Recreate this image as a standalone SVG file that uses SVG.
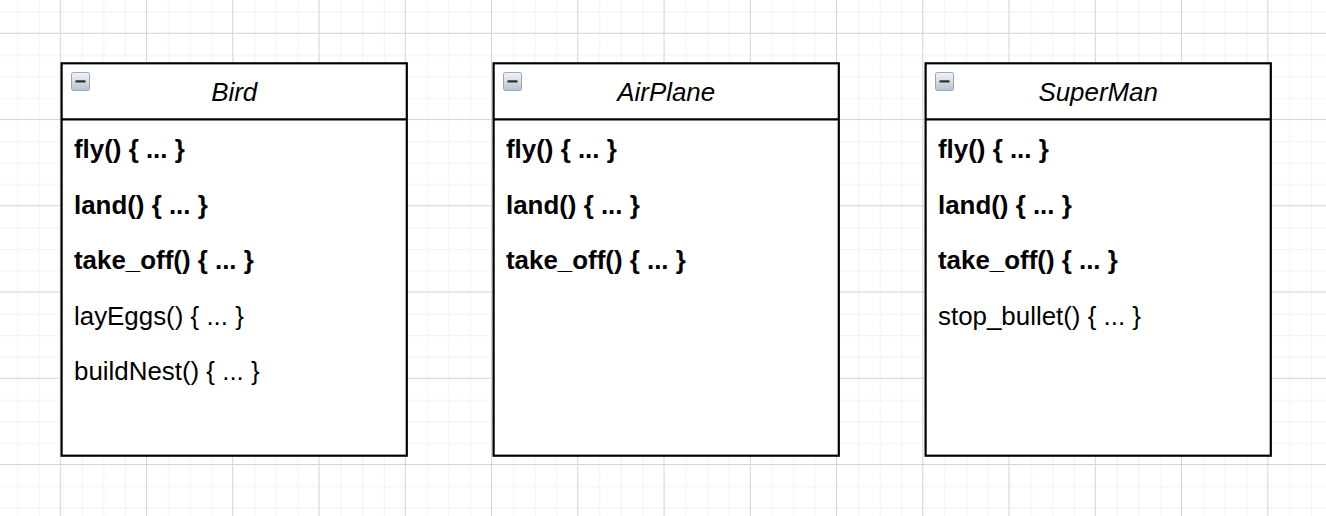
<svg xmlns="http://www.w3.org/2000/svg" width="1326" height="516" viewBox="0 0 1326 516">
<defs>
<pattern id="grid" patternUnits="userSpaceOnUse" x="59.8" y="32.8" width="86.25" height="86.25">
<rect x="22.06" y="0" width="1" height="86.25" fill="#f2f2f2"/>
<rect x="43.63" y="0" width="1" height="86.25" fill="#f2f2f2"/>
<rect x="65.19" y="0" width="1" height="86.25" fill="#f2f2f2"/>
<rect x="0" y="22.06" width="86.25" height="1" fill="#f2f2f2"/>
<rect x="0" y="43.63" width="86.25" height="1" fill="#f2f2f2"/>
<rect x="0" y="65.19" width="86.25" height="1" fill="#f2f2f2"/>
<rect x="0" y="0" width="1" height="86.25" fill="#d3d3d3"/>
<rect x="0" y="0" width="86.25" height="1" fill="#d3d3d3"/>
</pattern>
<linearGradient id="iconGrad" x1="0" y1="0" x2="0" y2="1">
<stop offset="0" stop-color="#f2f5f9"/>
<stop offset="1" stop-color="#b5c2d2"/>
</linearGradient>
<g id="icon">
<rect x="0.5" y="0.5" width="18" height="18" rx="2" fill="url(#iconGrad)" stroke="#97a6b8" stroke-width="1"/>
<rect x="4.5" y="8.3" width="10" height="2.2" fill="#2b2b2b"/>
</g>
</defs>
<style>
.box{fill:#ffffff;stroke:#000000;stroke-width:2.2}
.sep{stroke:#000000;stroke-width:2.2}
.title{font-family:"Liberation Sans",Arial,sans-serif;font-size:25.9px;font-style:italic;text-anchor:middle;fill:#000}
.m{font-family:"Liberation Sans",Arial,sans-serif;font-size:25.9px;fill:#000}
.b{font-weight:bold}
</style>
<rect x="0" y="0" width="1326" height="516" fill="#ffffff"/>
<rect x="0" y="0" width="1326" height="516" fill="url(#grid)"/>

<g id="bird">
<rect class="box" x="61.6" y="63.3" width="345.2" height="392.4"/>
<line class="sep" x1="61.6" y1="119.3" x2="406.8" y2="119.3"/>
<use href="#icon" x="71" y="72"/>
<text class="title" x="234.2" y="100.5">Bird</text>
<text class="m b" x="74" y="158.3">fly() { ... }</text>
<text class="m b" x="74" y="213.7">land() { ... }</text>
<text class="m b" x="74" y="269.1">take_off() { ... }</text>
<text class="m" x="74" y="324.5">layEggs() { ... }</text>
<text class="m" x="74" y="379.9">buildNest() { ... }</text>
</g>

<g id="airplane">
<rect class="box" x="493.6" y="63.3" width="345.2" height="392.4"/>
<line class="sep" x1="493.6" y1="119.3" x2="838.8" y2="119.3"/>
<use href="#icon" x="503" y="72"/>
<text class="title" x="666.2" y="100.5">AirPlane</text>
<text class="m b" x="506" y="158.3">fly() { ... }</text>
<text class="m b" x="506" y="213.7">land() { ... }</text>
<text class="m b" x="506" y="269.1">take_off() { ... }</text>
</g>

<g id="superman">
<rect class="box" x="925.6" y="63.3" width="345.2" height="392.4"/>
<line class="sep" x1="925.6" y1="119.3" x2="1270.8" y2="119.3"/>
<use href="#icon" x="935" y="72"/>
<text class="title" x="1098.2" y="100.5">SuperMan</text>
<text class="m b" x="938" y="158.3">fly() { ... }</text>
<text class="m b" x="938" y="213.7">land() { ... }</text>
<text class="m b" x="938" y="269.1">take_off() { ... }</text>
<text class="m" x="938" y="324.5">stop_bullet() { ... }</text>
</g>

<g id="connectors"/>
</svg>
